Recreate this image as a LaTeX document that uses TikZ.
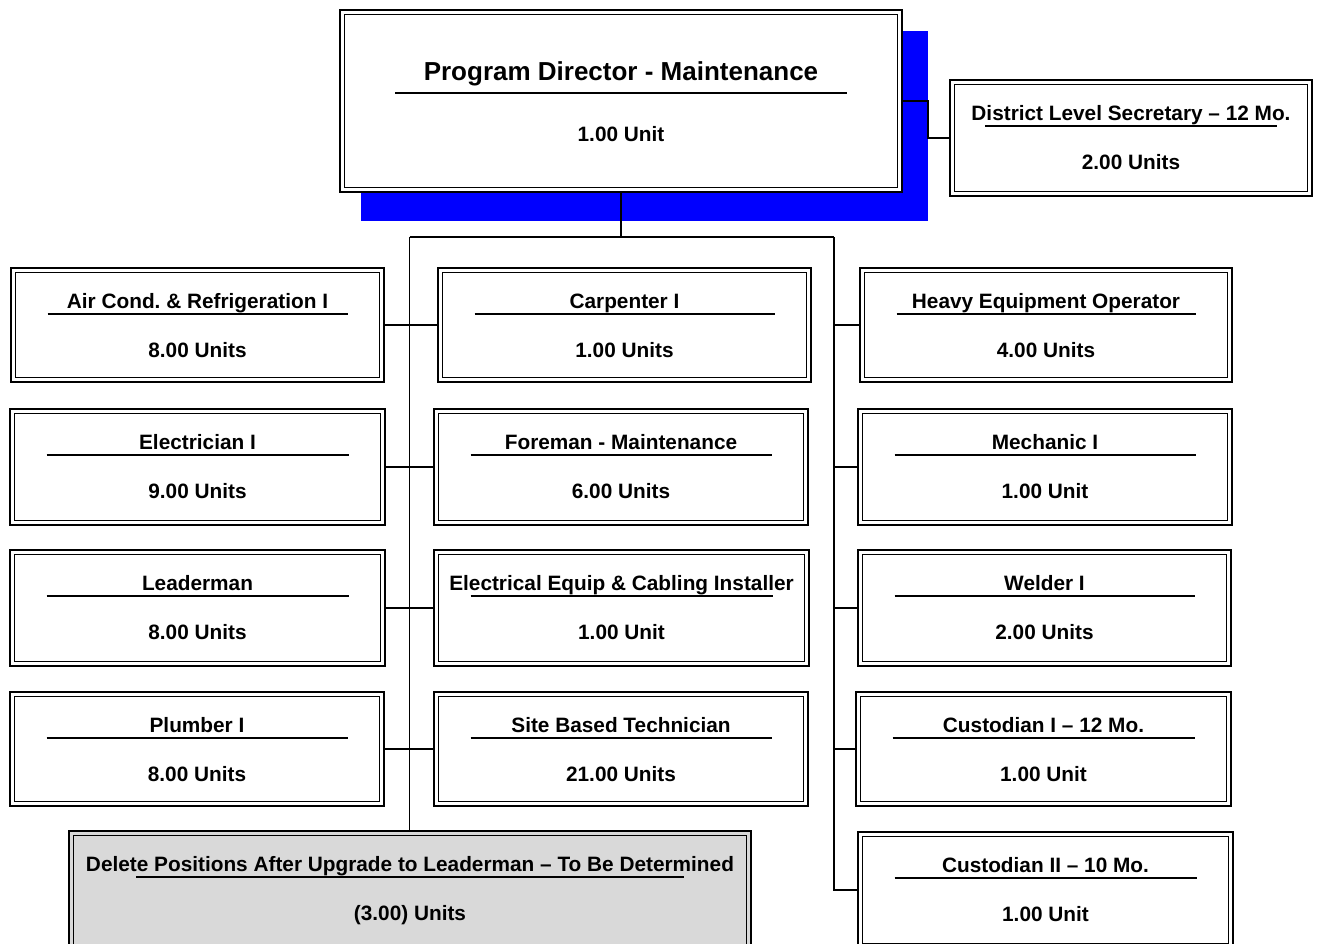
\documentclass[tikz,border=0pt]{standalone}
\usepackage{fontspec}
\setmainfont{Liberation Sans}
\frenchspacing
\pgfdeclarelayer{back}
\pgfdeclarelayer{bg}
\pgfsetlayers{back,bg,main}
\tikzset{
  obox/.style={draw=black, line width=1.8pt, inner sep=0pt, outer sep=0pt},
  iline/.style={draw=black, line width=1.1pt},
  otitle/.style={anchor=base, inner sep=0pt, font=\fontsize{20.8}{24}\selectfont\bfseries},
  bigtitle/.style={anchor=base, inner sep=0pt, font=\fontsize{26}{30}\selectfont\bfseries},
  ounits/.style={anchor=base, inner sep=0pt, font=\fontsize{20.8}{24}\selectfont\bfseries},
  uline/.style={draw=black, line width=1.3pt},
  conn/.style={draw=black, line width=1.5pt},
  shadowbox/.style={fill=blue, draw=none, inner sep=0pt, outer sep=0pt}
}
\newcommand{\orgbox}[9]{%
  \pgfmathsetmacro{\obw}{#4-#2-1.8}%
  \pgfmathsetmacro{\obh}{#5-#3-1.8}%
  \node[obox, fill=#6, minimum width=\obw pt, minimum height=\obh pt] (#1) at ({(#2+#4)/2},{(#3+#5)/2}) {};
  \draw[iline] ([shift={(4.2,4.2)}]#1.north west) rectangle ([shift={(-4.2,-4.2)}]#1.south east);
  \node[otitle] (#1-t) at ({(#2+#4)/2},#3+41) {#7};
  \draw[uline] (#2+#9,#3+47) -- (#4-#9,#3+47);
  \node[ounits] (#1-u) at ({(#2+#4)/2},#3+90) {#8};
}
\begin{document}
\begin{tikzpicture}[x=1pt,y=-1pt]
\useasboundingbox (0,0) rectangle (1318,943);
\clip (0,0) rectangle (1318,943);

% background and shadow
\begin{pgfonlayer}{back}
\fill[white] (0,0) rectangle (1318,943);
\node[shadowbox, minimum width=567pt, minimum height=190pt] (shadow) at (644.5,126) {};
\end{pgfonlayer}

% top box
\node[obox, fill=white, minimum width=562.2pt, minimum height=182.2pt] (pd) at (621,101) {};
\draw[iline] ([shift={(4.2,4.2)}]pd.north west) rectangle ([shift={(-4.2,-4.2)}]pd.south east);
\node[bigtitle] (pd-t) at (621,80) {Program Director - Maintenance};
\draw[uline] (395,93) -- (847,93);
\node[ounits] (pd-u) at (621,141) {1.00 Unit};

\orgbox{dls}{949}{79}{1313}{197}{white}{District Level Secretary – 12 Mo.}{2.00 Units}{36}

\orgbox{l1}{10}{267}{385}{383}{white}{Air Cond. \& Refrigeration I}{8.00 Units}{37.5}
\orgbox{m1}{437}{267}{812}{383}{white}{Carpenter I}{1.00 Units}{37.5}
\orgbox{r1}{859}{267}{1233}{383}{white}{Heavy Equipment Operator}{4.00 Units}{37.5}

\orgbox{l2}{9}{408}{386}{526}{white}{Electrician I}{9.00 Units}{37.5}
\orgbox{m2}{433}{408}{809}{526}{white}{Foreman - Maintenance}{6.00 Units}{37.5}
\orgbox{r2}{857}{408}{1233}{526}{white}{Mechanic I}{1.00 Unit}{37.5}

\orgbox{l3}{9}{549}{386}{667}{white}{Leaderman}{8.00 Units}{37.5}
\orgbox{m3}{433}{549}{810}{667}{white}{Electrical Equip \& Cabling Installer}{1.00 Unit}{37.5}
\orgbox{r3}{857}{549}{1232}{667}{white}{Welder I}{2.00 Units}{37.5}

\orgbox{l4}{9}{691}{385}{807}{white}{Plumber I}{8.00 Units}{37.5}
\orgbox{m4}{433}{691}{809}{807}{white}{Site Based Technician}{21.00 Units}{37.5}
\orgbox{r4}{855}{691}{1232}{807}{white}{Custodian I – 12 Mo.}{1.00 Unit}{37.5}

\orgbox{del}{68}{830}{752}{950}{gray!30}{Delete Positions After Upgrade to Leaderman – To Be Determined}{(3.00) Units}{68}
\orgbox{c2}{857}{831}{1234}{949}{white}{Custodian II – 10 Mo.}{1.00 Unit}{37.5}

% connectors
\coordinate (tj) at (621,237);
\coordinate (tl) at (409.5,237);
\coordinate (tr) at (834,237);
\begin{pgfonlayer}{bg}
\draw[conn] (pd.south) -- (tj);
\draw[conn] (tl) -- (tr);
\draw[conn] (tl) -- (tl |- del.north);
\draw[conn] (tr) |- (c2.west);
\draw[conn] (pd.east) -- (pd.east -| shadow.east) |- (dls.west);
\draw[conn] (l1.east) -- (l1.east -| m1.west);
\draw[conn] (l2.east) -- (l2.east -| m2.west);
\draw[conn] (l3.east) -- (l3.east -| m3.west);
\draw[conn] (l4.east) -- (l4.east -| m4.west);
\draw[conn] (r1.west -| tr) -- (r1.west);
\draw[conn] (r2.west -| tr) -- (r2.west);
\draw[conn] (r3.west -| tr) -- (r3.west);
\draw[conn] (r4.west -| tr) -- (r4.west);
\end{pgfonlayer}
\end{tikzpicture}
\end{document}
